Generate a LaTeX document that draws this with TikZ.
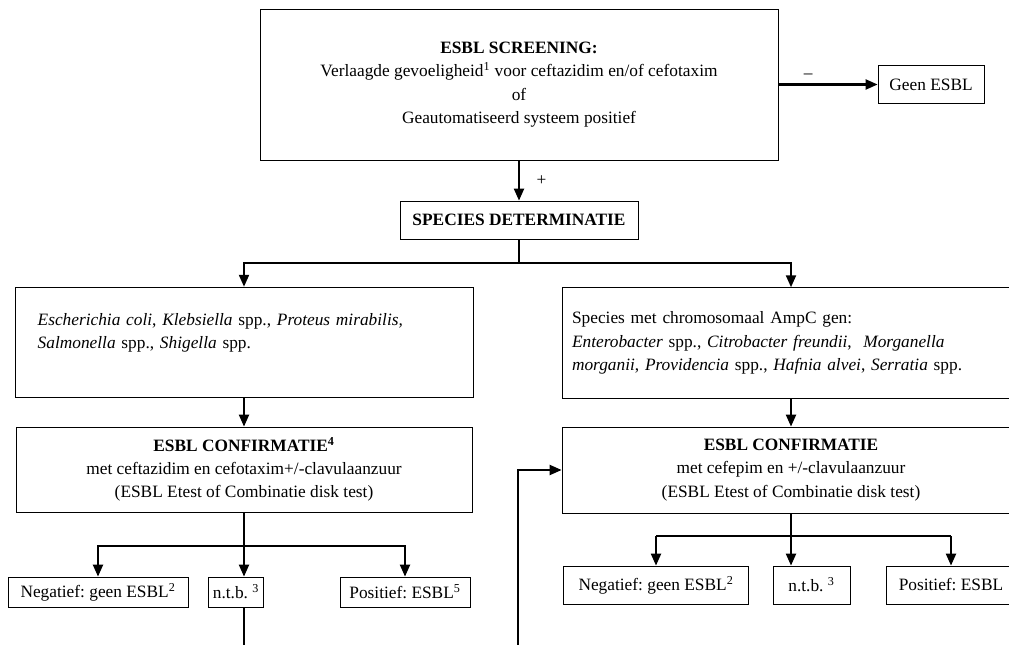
\documentclass[tikz,border=0pt]{standalone}
\usepackage{fontspec}
\setmainfont{Liberation Serif}
\usetikzlibrary{arrows.meta,positioning}
\frenchspacing

\begin{document}
\begin{tikzpicture}[x=0.75pt, y=-0.75pt,
  every node/.style={font=\fontsize{13}{17.5}\selectfont},
  box/.style={draw, line width=0.6pt, inner sep=3pt, align=center},
  groupbox/.style={box, align=left, minimum height=83pt},
  resultbox/.style={box, minimum height=#1},
  conn/.style={line width=1.6pt, -{Triangle[length=9pt, width=7.5pt]}},
  thickline/.style={line width=1.6pt},
  thinline/.style={line width=0.9pt}]
  \useasboundingbox (0,0) rectangle (1009,645);
  \clip (0,0) rectangle (1009,645);

  % screening
  \node[box, minimum width=388.5pt, minimum height=113.25pt] (screen) at (519,84.5)
    {\textbf{ESBL SCREENING:}\\Verlaagde gevoeligheid\textsuperscript{1} voor ceftazidim en/of cefotaxim\\of\\Geautomatiseerd systeem positief};
  \node[box, minimum width=79.5pt, minimum height=28.5pt] (geen) at (931,84.5) {Geen ESBL};
  \node[box, minimum width=178.5pt, minimum height=28.5pt] (species) at (519,220) {\textbf{SPECIES DETERMINATIE}};

  % species groups
  \node[groupbox, text width=309.5pt, inner xsep=17pt] (groupA) at (244,342.5)
    {\textit{Escherichia coli}, \textit{Klebsiella} spp., \textit{Proteus mirabilis,}\\\textit{Salmonella} spp., \textit{Shigella} spp.\\\mbox{}};
  \node[groupbox, text width=328.5pt, inner xsep=7.5pt] (groupB) at (791,343)
    {Species met chromosomaal AmpC gen:\\\textit{Enterobacter} spp., \textit{Citrobacter freundii}, \ \textit{Morganella}\\\textit{morganii}, \textit{Providencia} spp., \textit{Hafnia alvei}, \textit{Serratia} spp.};

  % confirmation
  \node[box, minimum width=342pt, minimum height=63.75pt] (confA) at (244,469.5)
    {\textbf{ESBL CONFIRMATIE\textsuperscript{4}}\\met ceftazidim en cefotaxim+/-clavulaanzuur\\(ESBL Etest of Combinatie disk test)};
  \node[box, minimum width=343.5pt, minimum height=64.5pt] (confB) at (791,470)
    {\textbf{ESBL CONFIRMATIE}\\met cefepim en +/-clavulaanzuur\\(ESBL Etest of Combinatie disk test)};

  % results
  \node[resultbox=22.5pt, minimum width=135pt] (negA) at (98,592) {Negatief: geen ESBL\textsuperscript{2}};
  \node[resultbox=22.5pt, minimum width=41.25pt] (ntbA) at (236,592) {n.t.b. \textsuperscript{3}};
  \node[resultbox=22.5pt, minimum width=97.5pt] (posA) at (405,592) {Positief: ESBL\textsuperscript{5}};
  \node[resultbox=28.5pt, minimum width=139pt] (negB) at (656,585) {Negatief: geen ESBL\textsuperscript{2}};
  \node[resultbox=28.5pt, minimum width=57.75pt] (ntbB) at (811.5,585) {n.t.b. \textsuperscript{3}};
  \node[resultbox=28.5pt, minimum width=97.5pt] (posB) at (951,585) {Positief: ESBL};

  \coordinate (splitTop) at (519,263);
  \coordinate (splitA) at (244,546);
  \coordinate (splitB) at (791,536);
  \coordinate (ntbOut) at (244,670);
  \coordinate (loopIn) at (518,670);

  \draw[conn] (screen.east) -- node[pos=0.3, above] {\textendash} (geen.west);
  \draw[conn] (screen.south) -- node[midway, right=9pt] {+} (species.north);
  \draw[thickline] (species.south) -- (splitTop);
  \draw[conn] (splitTop) -| (groupA.north);
  \draw[conn] (splitTop) -| (groupB.north);
  \draw[conn] (groupA.south) -- (confA.north);
  \draw[conn] (groupB.south) -- (confB.north);

  \draw[thickline] (confA.south) -- (splitA);
  \draw[conn] (splitA) -| (negA.north);
  \draw[conn] (splitA) -- (splitA |- ntbA.north);
  \draw[conn] (splitA) -| (posA.north);
  \draw[thickline] (ntbA.south -| ntbOut) -- (ntbOut);

  \draw[thickline] (confB.south) -- (splitB);
  \draw[thinline] (negB.north |- splitB) -- (posB.north |- splitB);
  \draw[conn] (negB.north |- splitB) -- (negB.north);
  \draw[conn] (splitB) -- (splitB |- ntbB.north);
  \draw[conn] (posB.north |- splitB) -- (posB.north);

  \draw[conn] (loopIn) |- (confB.west);
\end{tikzpicture}
\end{document}
